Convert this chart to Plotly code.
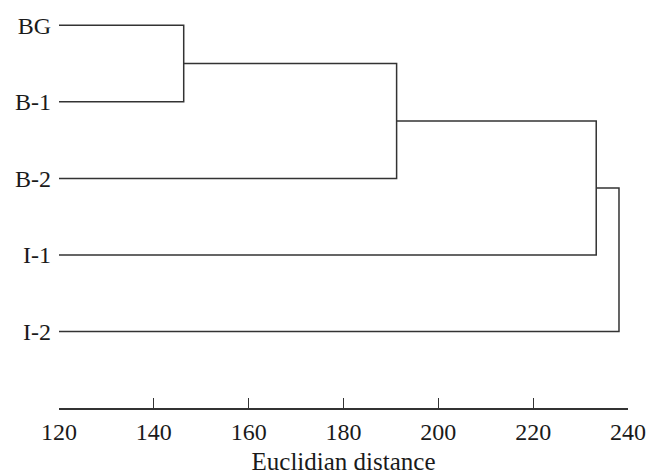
import plotly.graph_objects as go

# Leaves (top to bottom) and their y positions
leaf_names = ["BG", "B-1", "B-2", "I-1", "I-2"]
leaf_pos = [5, 4, 3, 2, 1]
leaf_start = 120  # distance at which leaf lines start (axis minimum)

# Linkage: (node_a, node_b, distance); new nodes numbered from 5 upward
merges = [
    (0, 1, 146.3),
    (5, 2, 191.2),
    (6, 3, 233.3),
    (7, 4, 238.1),
]

x_tick_vals = [120, 140, 160, 180, 200, 220, 240]
x_minor_ticks = [140, 160, 180, 200, 220, 240]

# Build dendrogram segments from the linkage
node_x = {i: leaf_start for i in range(len(leaf_names))}
node_y = {i: p for i, p in enumerate(leaf_pos)}
xs, ys = [], []
nid = len(leaf_names)
for a, b, d in merges:
    xs += [node_x[a], d, d, node_x[b], None]
    ys += [node_y[a], node_y[a], node_y[b], node_y[b], None]
    node_x[nid] = d
    node_y[nid] = (node_y[a] + node_y[b]) / 2
    nid += 1

line_col = "#333333"
font_fam = "Liberation Serif, Times New Roman, serif"
txt_col = "#1a1a1a"

fig = go.Figure()
fig.add_trace(go.Scatter(x=xs, y=ys, mode="lines",
                         line=dict(color=line_col, width=1.5),
                         hoverinfo="skip", showlegend=False))
# invisible trace on label axis
fig.add_trace(go.Scatter(x=[120, 240], y=[0, 0], xaxis="x2", mode="markers",
                         marker=dict(opacity=0), hoverinfo="skip", showlegend=False))

fig.update_layout(
    width=649, height=475,
    margin=dict(l=59, r=21, t=10, b=67),
    paper_bgcolor="white", plot_bgcolor="white",
    font=dict(family=font_fam, size=24, color=txt_col),
    xaxis=dict(range=[120, 240], tickvals=x_minor_ticks, showticklabels=False,
               ticks="inside", ticklen=10, tickwidth=1.3, tickcolor=line_col,
               showline=True, linecolor=line_col, linewidth=1.5,
               showgrid=False, zeroline=False, fixedrange=True),
    xaxis2=dict(range=[120, 240], overlaying="x", side="bottom",
                tickvals=x_tick_vals, ticktext=[str(v) for v in x_tick_vals],
                ticks="", showline=False, showgrid=False, zeroline=False,
                ticklabelstandoff=7,
                tickfont=dict(family=font_fam, size=24, color=txt_col),
                title=dict(text="Euclidian distance", standoff=14,
                           font=dict(family=font_fam, size=25, color=txt_col)),
                automargin=False),
    yaxis=dict(range=[0, 5.2], tickvals=leaf_pos, ticktext=leaf_names,
               ticks="", showline=False, showgrid=False, zeroline=False,
               ticklabelstandoff=7,
               tickfont=dict(family=font_fam, size=24, color=txt_col),
               automargin=False),
)

fig.write_html("out.html", config={"displayModeBar": False},
               post_script="document.body.style.margin='0';document.body.style.overflow='hidden';")
